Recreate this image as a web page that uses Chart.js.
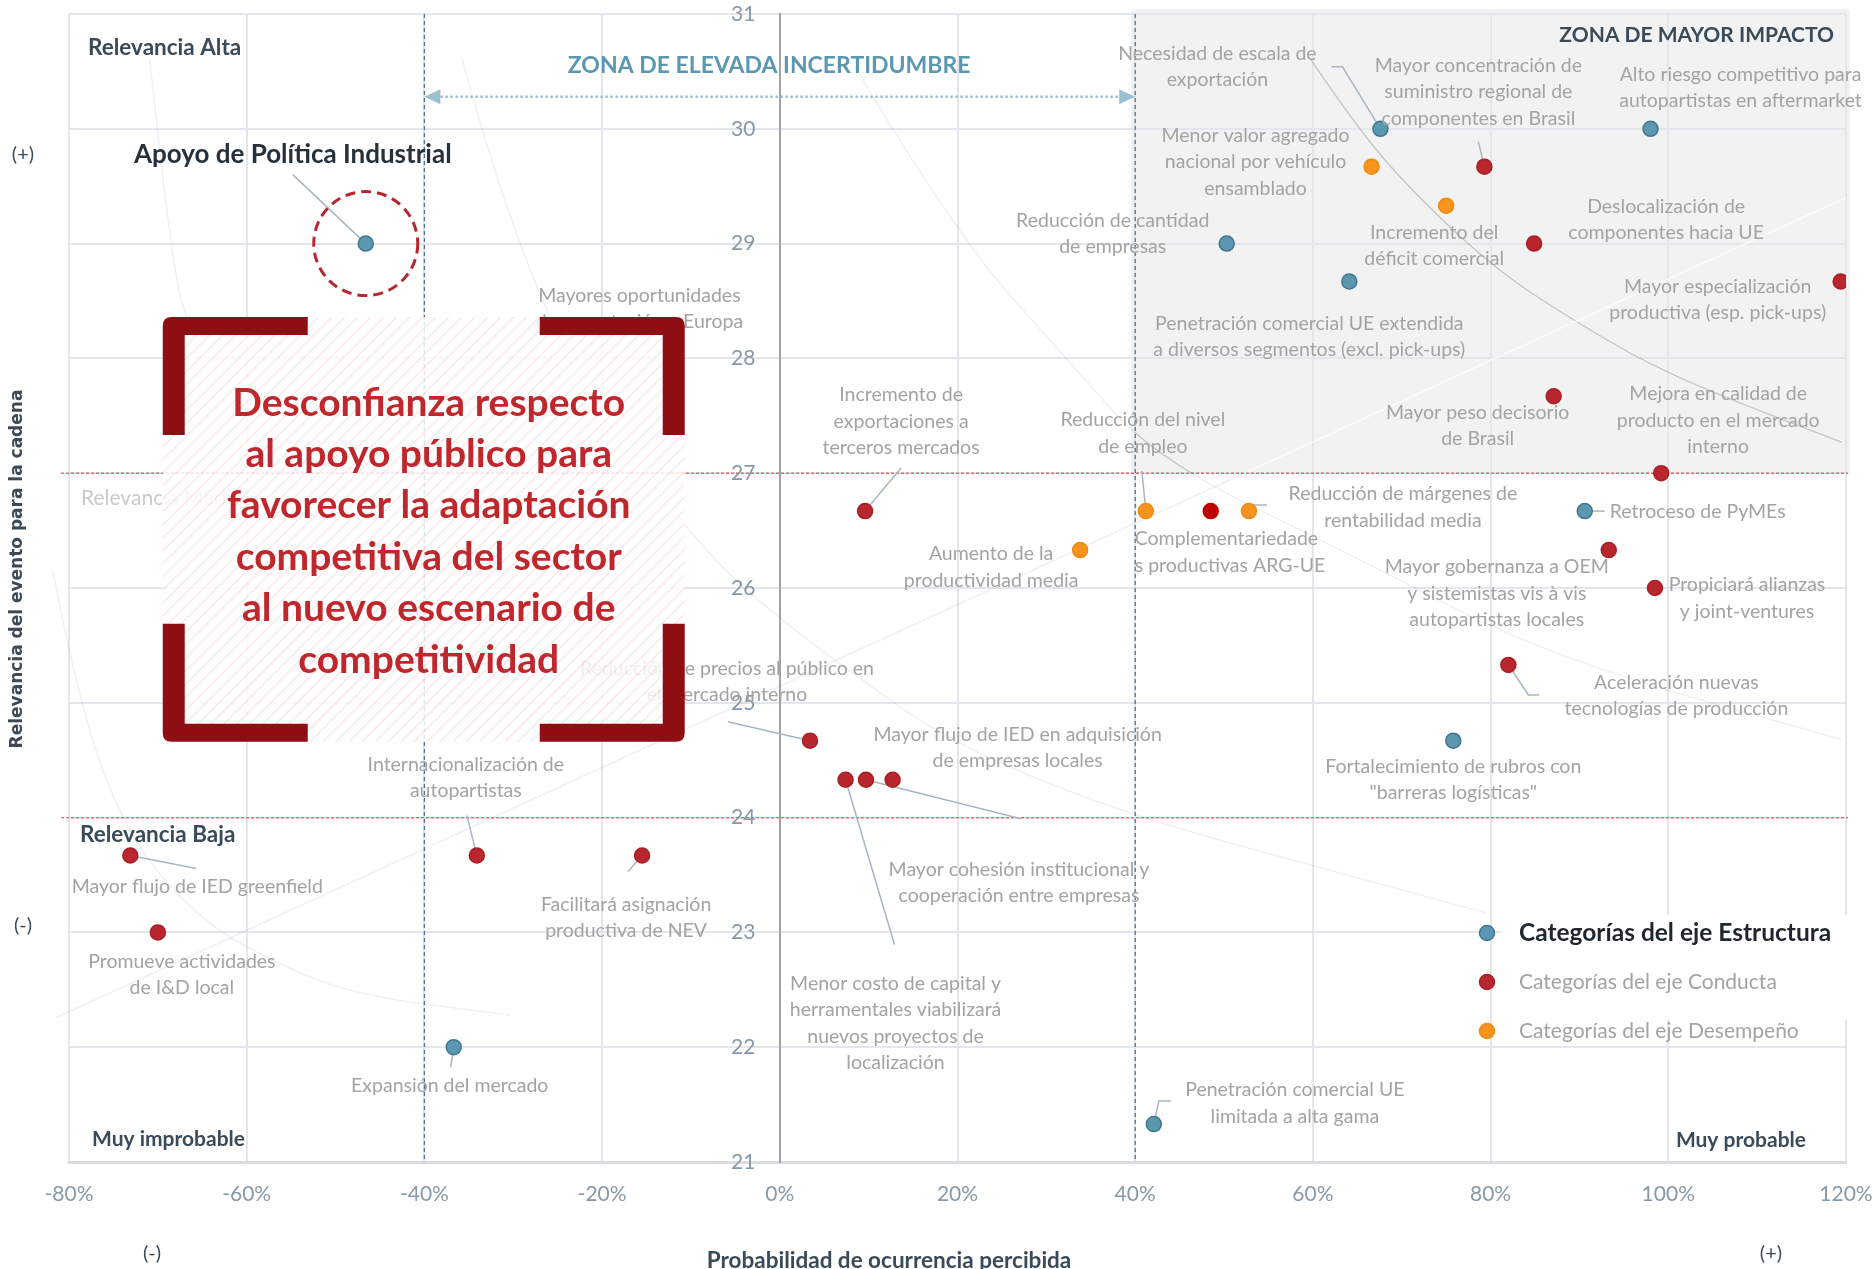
<!DOCTYPE html>
<html>
<head>
<meta charset="utf-8">
<script src="https://cdn.jsdelivr.net/npm/chart.js@4.4.0/dist/chart.umd.min.js"></script>
<style>
  html, body { margin: 0; padding: 0; background: #fff; }
  canvas { display: block; }
</style>
</head>
<body>
<canvas id="matrixChart" width="1876" height="1269"></canvas>
<script>
const FONT = 'Lato, "Open Sans", sans-serif';

// --- data (probabilidad %, relevancia) ---
const estructuraNames = [
  'Apoyo de Política Industrial',
  'Necesidad de escala de\nexportación',
  'Alto riesgo competitivo para\nautopartistas en aftermarket',
  'Reducción de cantidad\nde empresas',
  'Penetración comercial UE extendida\na diversos segmentos (excl. pick-ups)',
  'Retroceso de PyMEs',
  'Fortalecimiento de rubros con\n"barreras logísticas"',
  'Expansión del mercado',
  'Penetración comercial UE\nlimitada a alta gama'
];
const estructuraX = [-46.6, 67.6, 98.0, 50.3, 64.1, 90.6, 75.8, -36.7, 42.1];
const estructuraY = [29, 30, 30, 29, 28.67, 26.67, 24.67, 22, 21.33];

const conductaNames = [
  'Mayor concentración de\nsuministro regional de\ncomponentes en Brasil',
  'Deslocalización de\ncomponentes hacia UE',
  'Mayor especialización\nproductiva (esp. pick-ups)',
  'Mayor peso decisorio\nde Brasil',
  'Mejora en calidad de\nproducto en el mercado\ninterno',
  'Incremento de\nexportaciones a\nterceros mercados',
  'Complementariedade\ns productivas ARG-UE',
  'Mayor gobernanza a OEM\ny sistemistas vis à vis\nautopartistas locales',
  'Propiciará alianzas\ny joint-ventures',
  'Aceleración nuevas\ntecnologías de producción',
  'Reducción de precios al público en\nel mercado interno',
  'Menor costo de capital y\nherramentales viabilizará\nnuevos proyectos de\nlocalización',
  'Mayor cohesión institucional y\ncooperación entre empresas',
  'Mayor flujo de IED en adquisición\nde empresas locales',
  'Mayor flujo de IED greenfield',
  'Internacionalización de\nautopartistas',
  'Facilitará asignación\nproductiva de NEV',
  'Promueve actividades\nde I&D local'
];
const conductaX = [79.3, 84.9, 119.4, 87.1, 99.2, 9.6, 48.5, 93.3, 98.5, 82.0, 3.4, 7.4, 9.7, 12.7, -73.1, -34.1, -15.5, -70.0];
const conductaY = [29.67, 29, 28.67, 27.67, 27, 26.67, 26.67, 26.33, 26, 25.33, 24.67, 24.33, 24.33, 24.33, 23.67, 23.67, 23.67, 23];

const desempenoNames = [
  'Menor valor agregado\nnacional por vehículo\nensamblado',
  'Incremento del\ndéficit comercial',
  'Reducción del nivel\nde empleo',
  'Reducción de márgenes de\nrentabilidad media',
  'Aumento de la\nproductividad media'
];
const desempenoX = [66.6, 75.0, 41.2, 52.8, 33.8];
const desempenoY = [29.67, 29.33, 26.67, 26.67, 26.33];

const legendLabels = ['Categorías del eje Estructura', 'Categorías del eje Conducta', 'Categorías del eje Desempeño'];

// zone limits
const probLimits = [-40, 40];
const relevLimits = [24, 27];

// --- label placement (pixel offsets from each point) ---
const estructuraLayout = [
  { dx: -73, dy: -89, leader: [[-73, -69], [0, 0]], strong: true },
  { dx: -163, dy: -75, leader: [[-49, -62], [-38, -62], [0, 0]] },
  { dx: 90, dy: -54 },
  { dx: -114, dy: -23 },
  { dx: -40, dy: 42 },
  { dx: 25, dy: 1, align: 'left', leader: [[0, 0], [20, 0]] },
  { dx: 0, dy: 26 },
  { dx: -4, dy: 39, leader: [[0, 0], [-3, 20]] },
  { dx: 141, dy: -34, leader: [[0, 0], [5, -23], [17, -23]] }
];
const conductaLayout = [
  { dx: -6, dy: -101, leader: [[-6, -25], [0, 0]] },
  { dx: 132, dy: -37 },
  { dx: -123, dy: 5 },
  { dx: -76, dy: 16 },
  { dx: 57, dy: -79 },
  { dx: 36, dy: -116, leader: [[36, -43], [0, 0]] },
  { dx: -76, dy: 28, align: 'left' },
  { dx: -112, dy: 17 },
  { dx: 92, dy: -3 },
  { dx: 168, dy: 18, leader: [[0, 0], [20, 30], [31, 30]] },
  { dx: -83, dy: -72, leader: [[-82, -19], [0, 0]] },
  { dx: 50, dy: 204, leader: [[0, 0], [49, 165]] },
  { dx: 153, dy: 90, leader: [[0, 0], [155, 39]] },
  { dx: 125, dy: -45 },
  { dx: 67, dy: 31, leader: [[0, 0], [66, 13]] },
  { dx: -11, dy: -91, leader: [[-10, -40], [0, 0]] },
  { dx: -16, dy: 49, leader: [[0, 0], [-14, 16]] },
  { dx: 24, dy: 29 }
];
const desempenoLayout = [
  { dx: -116, dy: -31 },
  { dx: -12, dy: 27 },
  { dx: -3, dy: -91, leader: [[-4, -40], [0, 0]] },
  { dx: 154, dy: -17, leader: [[0, 0], [5, -6], [18, -6]] },
  { dx: -89, dy: 4 }
];

// faint guide curves, in data units
const guideCurves = [
  [[59.8, 30.60], [63.8, 30.14], [69.8, 29.56], [80.1, 28.80], [89.7, 28.31], [100.4, 27.84], [119.5, 27.27]],
  [[9.0, 30.47], [19.7, 29.09], [33.0, 27.93], [42.4, 27.12], [65.3, 26.25], [86.6, 25.40], [119.5, 24.68]],
  [[-35.8, 30.62], [-28.0, 28.40], [-10.8, 26.48], [2.2, 25.57], [26.0, 24.30], [79.5, 23.17]],
  [[-70.9, 30.60], [-68.3, 28.68], [-66.0, 28.22]],
  [[-81.8, 26.15], [-78.8, 24.94], [-73.2, 23.81], [-65.3, 23.11], [-57.0, 22.74], [-47.6, 22.45], [-30.4, 22.28]]
];
const guideLine = [[-81.4, 22.26], [120, 29.40]];

const calloutBox = { x0: -69.45, x1: -10.7, y0: 28.36, y1: 24.66 };
const calloutText = ['Desconfianza respecto', 'al apoyo público para', 'favorecer la adaptación',
  'competitiva del sector', 'al nuevo escenario de', 'competitividad'];

const blue = '#5b97b0', blueEdge = '#41768e';
const red = '#b8262e', redEdge = '#a81f27';
const orange = '#f7941d', orangeEdge = '#ef8a12';
const labelGrey = '#a3a3a3';
const darkText = '#3b4a59';
const LH = 26.3;

function lines(ctx, text, x, y, lh) {
  text.split('\n').forEach((ln, i) => ctx.fillText(ln, x, y + i * lh));
}

function smoothPath(ctx, pts) {
  ctx.beginPath();
  ctx.moveTo(pts[0][0], pts[0][1]);
  for (let i = 1; i < pts.length - 1; i++) {
    const mx = (pts[i][0] + pts[i + 1][0]) / 2, my = (pts[i][1] + pts[i + 1][1]) / 2;
    ctx.quadraticCurveTo(pts[i][0], pts[i][1], mx, my);
  }
  const last = pts[pts.length - 1];
  ctx.lineTo(last[0], last[1]);
  ctx.stroke();
}

const seriesLayout = [estructuraLayout, conductaLayout, desempenoLayout];
const seriesNames = [estructuraNames, conductaNames, desempenoNames];

const decor = {
  id: 'decor',
  beforeDraw(chart) {
    const { ctx, chartArea: a, scales: { x, y } } = chart;
    ctx.save();
    ctx.fillStyle = '#fff';
    ctx.fillRect(0, 0, chart.width, chart.height);
    const zx = x.getPixelForValue(probLimits[1]);
    const zy = y.getPixelForValue(relevLimits[1]);
    ctx.fillStyle = '#f2f2f2';
    ctx.fillRect(zx - 4, a.top - 5, a.right + 4 - (zx - 4), zy - a.top + 5);
    ctx.restore();
  },
  beforeDatasetsDraw(chart) {
    const { ctx, chartArea: a, scales: { x, y } } = chart;
    const px = p => [x.getPixelForValue(p[0]), y.getPixelForValue(p[1])];
    ctx.save();
    // guide curves
    ctx.lineWidth = 1.5;
    ctx.strokeStyle = 'rgba(0,0,0,0.06)';
    guideCurves.forEach(c => smoothPath(ctx, c.map(px)));
    ctx.strokeStyle = 'rgba(0,0,0,0.05)';
    ctx.lineWidth = 2;
    smoothPath(ctx, guideLine.map(px));
    ctx.save();
    ctx.beginPath();
    ctx.rect(x.getPixelForValue(probLimits[1]), a.top - 5, a.right, y.getPixelForValue(relevLimits[1]) - a.top + 5);
    ctx.clip();
    ctx.strokeStyle = 'rgba(0,0,0,0.13)';
    ctx.lineWidth = 1.3;
    guideCurves.forEach(c => smoothPath(ctx, c.map(px)));
    ctx.strokeStyle = 'rgba(255,255,255,0.8)';
    ctx.lineWidth = 2;
    smoothPath(ctx, guideLine.map(px));
    ctx.restore();

    // relevance limits (red dotted)
    ctx.strokeStyle = '#e06a6a';
    ctx.lineWidth = 1.4;
    ctx.setLineDash([3, 2]);
    relevLimits.forEach(v => {
      const yy = y.getPixelForValue(v);
      ctx.beginPath(); ctx.moveTo(a.left - 8, yy); ctx.lineTo(a.right + 2, yy); ctx.stroke();
    });
    // probability limits (blue dashed)
    ctx.strokeStyle = '#4f7489';
    ctx.lineWidth = 1.3;
    ctx.setLineDash([4, 3]);
    probLimits.forEach(v => {
      const xx = x.getPixelForValue(v);
      ctx.beginPath(); ctx.moveTo(xx, a.top); ctx.lineTo(xx, a.bottom); ctx.stroke();
    });
    // uncertainty arrow
    const ay = y.getPixelForValue(30.28);
    const ax0 = x.getPixelForValue(probLimits[0]), ax1 = x.getPixelForValue(probLimits[1]);
    ctx.strokeStyle = '#9cc0d0';
    ctx.fillStyle = '#9cc0d0';
    ctx.lineWidth = 2.5;
    ctx.setLineDash([2.5, 2.5]);
    ctx.beginPath(); ctx.moveTo(ax0 + 16, ay); ctx.lineTo(ax1 - 16, ay); ctx.stroke();
    ctx.setLineDash([]);
    [[ax0, 1], [ax1, -1]].forEach(([tx, s]) => {
      ctx.beginPath(); ctx.moveTo(tx, ay); ctx.lineTo(tx + s * 16, ay - 7.5); ctx.lineTo(tx + s * 16, ay + 7.5);
      ctx.closePath(); ctx.fill();
    });

    // leader lines
    ctx.strokeStyle = '#a9b6c1';
    ctx.lineWidth = 1.5;
    seriesLayout.forEach((layout, si) => {
      const meta = chart.getDatasetMeta(si);
      layout.forEach((lab, i) => {
        if (!lab.leader) return;
        const pt = meta.data[i];
        ctx.beginPath();
        lab.leader.forEach(([dx, dy], k) => {
          if (k === 0) ctx.moveTo(pt.x + dx, pt.y + dy); else ctx.lineTo(pt.x + dx, pt.y + dy);
        });
        ctx.stroke();
      });
    });
    ctx.restore();
  },
  afterDatasetsDraw(chart) {
    const { ctx, chartArea: a, scales: { x, y } } = chart;
    ctx.save();
    ctx.textBaseline = 'middle';

    // point labels
    seriesLayout.forEach((layout, si) => {
      const meta = chart.getDatasetMeta(si);
      layout.forEach((lab, i) => {
        const pt = meta.data[i];
        if (lab.strong) {
          ctx.font = 'bold 26px ' + FONT;
          ctx.fillStyle = '#26313b';
        } else {
          ctx.font = '19.5px ' + FONT;
          ctx.fillStyle = labelGrey;
        }
        ctx.textAlign = lab.align || 'center';
        lines(ctx, seriesNames[si][i], pt.x + lab.dx, pt.y + lab.dy, LH);
      });
    });
    ctx.font = '19.5px ' + FONT;
    ctx.fillStyle = labelGrey;
    ctx.textAlign = 'center';
    lines(ctx, 'Mayores oportunidades\nde exportación a Europa', x.getPixelForValue(-15.8), y.getPixelForValue(28.55), LH);

    // quadrant texts
    ctx.font = 'bold 22.5px ' + FONT;
    ctx.fillStyle = darkText;
    ctx.textAlign = 'left';
    ctx.fillText('Relevancia Alta', a.left + 19, a.top + 34);
    ctx.fillText('Relevancia Baja', a.left + 11, y.getPixelForValue(23.85));
    ctx.font = 'bold 21px ' + FONT;
    ctx.fillText('Muy improbable', a.left + 23, a.bottom - 23);
    ctx.textAlign = 'right';
    ctx.fillText('Muy probable', a.right - 40, a.bottom - 22);
    ctx.fillText('ZONA DE MAYOR IMPACTO', a.right - 12, a.top + 21);
    ctx.font = '21px ' + FONT;
    ctx.fillStyle = '#cacaca';
    ctx.textAlign = 'left';
    ctx.fillText('Relevancia Media', a.left + 12, y.getPixelForValue(26.78));
    ctx.font = 'bold 23px ' + FONT;
    ctx.fillStyle = '#5b97b0';
    ctx.textAlign = 'center';
    ctx.fillText('ZONA DE ELEVADA INCERTIDUMBRE', x.getPixelForValue(-1.2), y.getPixelForValue(30.55));

    // callout box
    const L = x.getPixelForValue(calloutBox.x0), R = x.getPixelForValue(calloutBox.x1);
    const T = y.getPixelForValue(calloutBox.y0), B = y.getPixelForValue(calloutBox.y1);
    ctx.fillStyle = 'rgba(255,255,255,0.82)';
    ctx.fillRect(L, T, R - L, B - T);
    ctx.save();
    ctx.beginPath(); ctx.rect(L, T, R - L, B - T); ctx.clip();
    ctx.strokeStyle = 'rgba(226,150,150,0.22)';
    ctx.lineWidth = 1.5;
    for (let k = -(B - T); k < R - L; k += 13) {
      ctx.beginPath(); ctx.moveTo(L + k, B); ctx.lineTo(L + k + (B - T), T); ctx.stroke();
    }
    ctx.restore();
    ctx.fillStyle = '#8f0e14';
    const vw = 22, hw = 18, armH = 145, armV = 118, r = 9;
    const bracket = (cx, cy, sx, sy) => {
      ctx.beginPath();
      ctx.moveTo(cx, cy + sy * armV);
      ctx.lineTo(cx, cy + sy * r);
      ctx.quadraticCurveTo(cx, cy, cx + sx * r, cy);
      ctx.lineTo(cx + sx * armH, cy);
      ctx.lineTo(cx + sx * armH, cy + sy * hw);
      ctx.lineTo(cx + sx * vw, cy + sy * hw);
      ctx.lineTo(cx + sx * vw, cy + sy * armV);
      ctx.closePath();
      ctx.fill();
    };
    bracket(L, T, 1, 1); bracket(R, T, -1, 1); bracket(L, B, 1, -1); bracket(R, B, -1, -1);
    ctx.font = 'bold 39px ' + FONT;
    ctx.fillStyle = '#c0272d';
    ctx.textAlign = 'center';
    calloutText.forEach((t, i) => ctx.fillText(t, (L + R) / 2 + 5, T + 86 + i * 51.4));

    // highlight circle around the policy point
    const p0 = chart.getDatasetMeta(0).data[0];
    ctx.strokeStyle = '#b8262e';
    ctx.lineWidth = 3;
    ctx.setLineDash([10, 6]);
    ctx.beginPath(); ctx.arc(p0.x, p0.y, 52, 0, Math.PI * 2); ctx.stroke();
    ctx.setLineDash([]);

    // legend
    const lx = a.right - 359, ly = a.bottom - 229;
    ctx.fillStyle = '#fff';
    ctx.fillRect(lx + 14, ly - 18, 355, 105);
    const lc = [[blue, blueEdge], [red, redEdge], [orange, orangeEdge]];
    legendLabels.forEach((t, i) => {
      const yy = ly + i * 49;
      ctx.beginPath(); ctx.arc(lx, yy, 7.5, 0, Math.PI * 2);
      ctx.fillStyle = lc[i][0]; ctx.fill();
      ctx.lineWidth = 1.5; ctx.strokeStyle = lc[i][1]; ctx.stroke();
      ctx.textAlign = 'left';
      ctx.font = i === 0 ? 'bold 24.5px ' + FONT : '21px ' + FONT;
      ctx.fillStyle = i === 0 ? '#1f262d' : labelGrey;
      ctx.fillText(t, lx + 32, yy);
    });

    // axis titles and signs
    ctx.fillStyle = darkText;
    ctx.font = 'bold 22.5px ' + FONT;
    ctx.textAlign = 'center';
    ctx.fillText('Probabilidad de ocurrencia percibida', 889, 1261);
    ctx.font = '20px ' + FONT;
    ctx.fillText('(+)', 23, 155);
    ctx.fillText('(-)', 23, 926);
    ctx.fillText('(-)', 152, 1254);
    ctx.fillText('(+)', 1771, 1254);
    ctx.save();
    ctx.translate(18, 569);
    ctx.rotate(-Math.PI / 2);
    ctx.font = 'bold 17px "DejaVu Sans", sans-serif';
    ctx.fillText('Relevancia del evento para la cadena', 0, 0);
    ctx.restore();
    ctx.restore();
  }
};

function makeSet(label, xs, ys, fill, edge) {
  return {
    label,
    data: xs.map((v, i) => ({ x: v, y: ys[i] })),
    pointRadius: 7.5,
    pointBorderWidth: 1.5,
    pointBackgroundColor: fill,
    pointBorderColor: edge
  };
}

const conductaSet = makeSet('Conducta', conductaX, conductaY, red, redEdge);
conductaSet.pointBackgroundColor = c => conductaNames[c.dataIndex].startsWith('Complementariedade') ? '#c00000' : red;
conductaSet.pointBorderColor = c => conductaNames[c.dataIndex].startsWith('Complementariedade') ? '#c00000' : redEdge;

const tickFont = { family: FONT, size: 21 };
const gridColor = '#e3e7eb';

new Chart(document.getElementById('matrixChart'), {
  type: 'scatter',
  data: {
    datasets: [
      makeSet('Estructura', estructuraX, estructuraY, blue, blueEdge),
      conductaSet,
      makeSet('Desempeño', desempenoX, desempenoY, orange, orangeEdge)
    ]
  },
  options: {
    responsive: false,
    animation: false,
    devicePixelRatio: 1,
    layout: { padding: { left: 69, right: 30, top: 14, bottom: 0 } },
    plugins: { legend: { display: false }, tooltip: { enabled: false } },
    scales: {
      x: {
        type: 'linear', min: -80, max: 120, position: 'bottom',
        ticks: { stepSize: 20, callback: v => v + '%', color: '#8799a9', font: tickFont, padding: 0 },
        grid: { color: gridColor, lineWidth: 2, drawTicks: true, tickLength: 20, tickColor: 'rgba(0,0,0,0)' },
        border: { color: '#d9dde1', width: 3 },
        afterFit: s => { s.height = 107; }
      },
      y: {
        type: 'linear', min: 21, max: 31, position: { x: 0 },
        // trailing figure spaces keep the labels clear of the central axis
        ticks: { stepSize: 1, color: '#8799a9', font: tickFont, padding: 0, callback: v => v + '\u2007\u2007' },
        grid: { color: gridColor, lineWidth: 2, drawTicks: false },
        border: { color: '#a3a3a3', width: 2 },
        afterFit: s => { s.width = 0; }
      }
    }
  },
  plugins: [decor]
});
</script>
</body>
</html>
